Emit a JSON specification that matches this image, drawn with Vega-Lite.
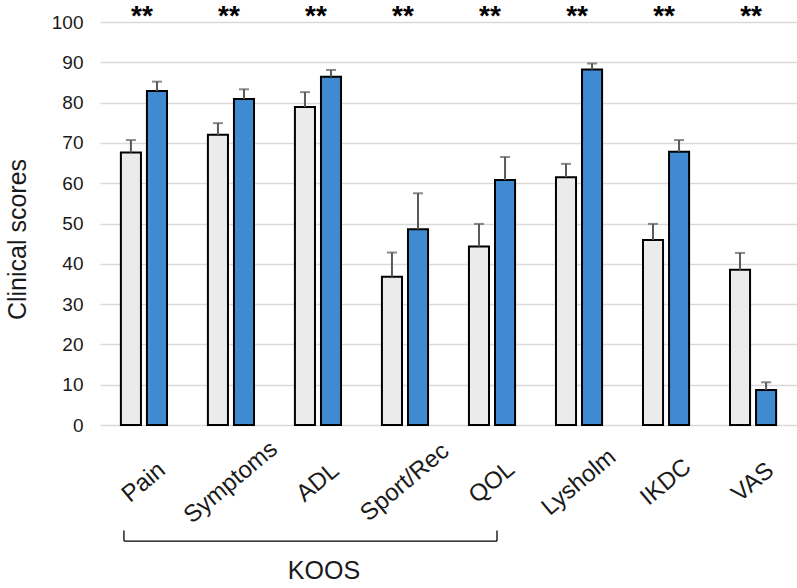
{
  "$schema": "https://vega.github.io/schema/vega-lite/v6.json",
  "width": 697,
  "height": 403,
  "autosize": {"type": "none"},
  "padding": {"left": 100, "top": 22, "right": 0, "bottom": 163},
  "background": "white",
  "config": {
    "font": "Liberation Sans",
    "view": {"stroke": null}
  },
  "data": {
    "values": [
      {"cat": "Pain", "group": "pre", "mean": 67.6, "hi": 70.7},
      {"cat": "Pain", "group": "post", "mean": 82.9, "hi": 85.2},
      {"cat": "Symptoms", "group": "pre", "mean": 72.0, "hi": 74.9},
      {"cat": "Symptoms", "group": "post", "mean": 80.9, "hi": 83.3},
      {"cat": "ADL", "group": "pre", "mean": 78.9, "hi": 82.6},
      {"cat": "ADL", "group": "post", "mean": 86.4, "hi": 88.1},
      {"cat": "Sport/Rec", "group": "pre", "mean": 36.8, "hi": 42.8},
      {"cat": "Sport/Rec", "group": "post", "mean": 48.6, "hi": 57.5},
      {"cat": "QOL", "group": "pre", "mean": 44.3, "hi": 49.9},
      {"cat": "QOL", "group": "post", "mean": 60.8, "hi": 66.5},
      {"cat": "Lysholm", "group": "pre", "mean": 61.5, "hi": 64.8},
      {"cat": "Lysholm", "group": "post", "mean": 88.2, "hi": 89.7},
      {"cat": "IKDC", "group": "pre", "mean": 45.9, "hi": 49.9},
      {"cat": "IKDC", "group": "post", "mean": 67.8, "hi": 70.7},
      {"cat": "VAS", "group": "pre", "mean": 38.5, "hi": 42.7},
      {"cat": "VAS", "group": "post", "mean": 8.7, "hi": 10.6}
    ]
  },
  "encoding": {
    "x": {
      "field": "cat",
      "type": "nominal",
      "scale": {
        "domain": ["Pain", "Symptoms", "ADL", "Sport/Rec", "QOL", "Lysholm", "IKDC", "VAS"],
        "paddingInner": 0.47,
        "paddingOuter": 0.24
      },
      "axis": {
        "title": null,
        "domain": false,
        "ticks": false,
        "labelAngle": -40,
        "labelAlign": "center",
        "labelBaseline": "middle",
        "labelPadding": 57,
        "labelFontSize": 24,
        "labelColor": "#1a1a1a",
        "labelOverlap": false,
        "labelBound": false
      }
    }
  },
  "layer": [
    {
      "mark": {"type": "bar", "stroke": "#000000", "strokeWidth": 2},
      "encoding": {
        "xOffset": {"field": "group", "type": "nominal", "scale": {"domain": ["pre", "post"], "paddingInner": 0.23, "paddingOuter": 0}},
        "y": {
          "field": "mean",
          "type": "quantitative",
          "scale": {"domain": [0, 100], "nice": false},
          "axis": {
            "values": [0, 10, 20, 30, 40, 50, 60, 70, 80, 90, 100],
            "domain": false,
            "ticks": false,
            "grid": true,
            "gridColor": "#d9d9d9",
            "gridWidth": 1.5,
            "labelFontSize": 19,
            "labelColor": "#1a1a1a",
            "labelPadding": 17,
            "title": "Clinical scores",
            "titleFontSize": 25,
            "titleFontWeight": "normal",
            "titleColor": "#1a1a1a",
            "titleX": -75,
            "titleY": 217,
            "titleBaseline": "alphabetic"
          }
        },
        "color": {"field": "group", "type": "nominal", "scale": {"domain": ["pre", "post"], "range": ["#ebebeb", "#3f8ad0"]}, "legend": null}
      }
    },
    {
      "mark": {"type": "rule", "color": "#595959", "strokeWidth": 2},
      "encoding": {
        "xOffset": {"field": "group", "type": "nominal", "scale": {"domain": ["pre", "post"], "paddingInner": 0.23, "paddingOuter": 0}},
        "y": {"field": "mean", "type": "quantitative"},
        "y2": {"field": "hi"}
      }
    },
    {
      "mark": {"type": "tick", "color": "#595959", "thickness": 2, "size": 10, "orient": "horizontal"},
      "encoding": {
        "xOffset": {"field": "group", "type": "nominal", "scale": {"domain": ["pre", "post"], "paddingInner": 0.23, "paddingOuter": 0}},
        "y": {"field": "hi", "type": "quantitative"}
      }
    },
    {
      "transform": [{"filter": "datum.group == 'pre'"}],
      "mark": {"type": "text", "text": "**", "fontSize": 28, "fontWeight": "bold", "baseline": "alphabetic", "align": "center", "dy": 3, "dx": -2, "color": "#000000"},
      "encoding": {
        "y": {"datum": 100}
      }
    },
    {
      "data": {"values": [{"a": "Pain", "b": "QOL"}]},
      "mark": {"type": "rule", "color": "#000000", "strokeWidth": 1.3, "xOffset": -20, "x2Offset": 5},
      "encoding": {
        "x": {"field": "a", "type": "nominal"},
        "x2": {"field": "b"},
        "y": {"datum": -28.8}
      }
    },
    {
      "data": {"values": [{"a": "Pain"}]},
      "mark": {"type": "rule", "color": "#000000", "strokeWidth": 1.3, "xOffset": -20},
      "encoding": {
        "x": {"field": "a", "type": "nominal"},
        "y": {"datum": -28.8},
        "y2": {"datum": -26.2}
      }
    },
    {
      "data": {"values": [{"a": "QOL"}]},
      "mark": {"type": "rule", "color": "#000000", "strokeWidth": 1.3, "xOffset": 5},
      "encoding": {
        "x": {"field": "a", "type": "nominal"},
        "y": {"datum": -28.8},
        "y2": {"datum": -26.2}
      }
    },
    {
      "data": {"values": [{"a": "ADL", "label": "KOOS"}]},
      "mark": {"type": "text", "fontSize": 25, "baseline": "alphabetic", "align": "center", "dx": 6, "color": "#1a1a1a"},
      "encoding": {
        "x": {"field": "a", "type": "nominal"},
        "y": {"datum": -38.2},
        "text": {"field": "label"}
      }
    }
  ]
}
